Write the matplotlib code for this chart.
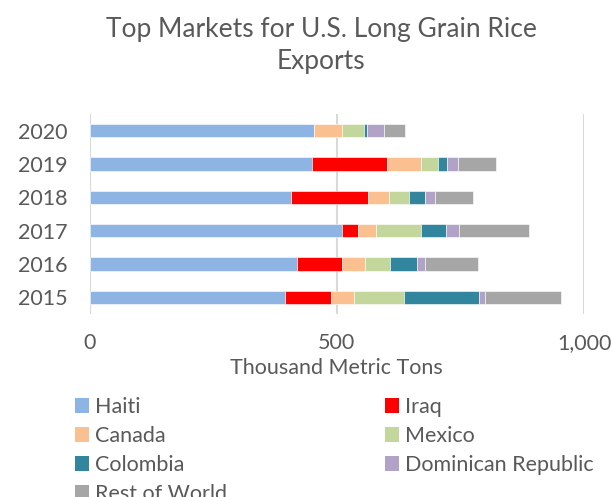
import matplotlib
matplotlib.use("Agg")
import matplotlib.pyplot as plt
from matplotlib.patches import Patch
import numpy as np

plt.rcParams['font.family'] = ['Lato', 'DejaVu Sans']

years = ["2015", "2016", "2017", "2018", "2019", "2020"]
haiti    = [396, 419, 510, 408, 449, 453]
iraq     = [93, 92, 33, 156, 153, 0]
canada   = [45, 47, 37, 42, 69, 58]
mexico   = [102, 50, 90, 40, 34, 44]
colombia = [152, 54, 51, 33, 17, 6]
dom_rep  = [12, 17, 27, 19, 23, 35]
rest     = [154, 107, 141, 77, 77, 43]

series_names = ["Haiti", "Iraq", "Canada", "Mexico", "Colombia",
                "Dominican Republic", "Rest of World"]
series_vals = [haiti, iraq, canada, mexico, colombia, dom_rep, rest]
colors = ["#8EB4E3", "#FF0000", "#FAC090", "#C3D69B", "#31859C",
          "#B3A2C7", "#A6A6A6"]

text_color = "#595959"

fig = plt.figure(figsize=(6.13, 4.97), dpi=100)
ax = fig.add_axes([89.5/613, 1-314/497, (584-89.5)/613, (314-114)/497])

y = np.arange(len(years))
left = np.zeros(len(years))
for name, vals, c in zip(series_names, series_vals, colors):
    v = np.array(vals, dtype=float)
    ax.barh(y, v, left=left, height=0.4, color=c, edgecolor="white",
            linewidth=0.4, label=name, zorder=3)
    left += v

ax.set_xlim(0, 1000)
ax.set_ylim(-0.5, len(years)-0.5)
ax.set_yticks(y)
ax.set_yticklabels(years)
ax.set_xticks([0, 500, 1000])
ax.set_xticklabels(["0", "500", "1,000"])
ax.grid(axis="x", color="#D9D9D9", linewidth=1.5, zorder=0)
for s in ax.spines.values():
    s.set_visible(False)
ax.tick_params(axis="both", length=0, labelsize=15.5, colors=text_color)
ax.tick_params(axis="x", pad=14)
ax.tick_params(axis="y", pad=16)
ax.set_xlabel("Thousand Metric Tons", fontsize=15.5, color=text_color, labelpad=3)

fig.text(321/613, 1-30/497, "Top Markets for U.S. Long Grain Rice",
         ha="center", va="center", fontsize=19, color=text_color)
fig.text(321/613, 1-61/497, "Exports",
         ha="center", va="center", fontsize=19, color=text_color)

handles = [Patch(facecolor=c, edgecolor="none") for c in colors]
order = [0, 2, 4, 6, 1, 3, 5]
leg = fig.legend([handles[i] for i in order], [series_names[i] for i in order],
                 ncol=2, loc="upper left", bbox_to_anchor=(75/613, 1-397/497),
                 frameon=False, fontsize=15.5, handlelength=0.65, handleheight=0.65,
                 handletextpad=0.3, columnspacing=7.3, labelspacing=0.42,
                 borderaxespad=0, borderpad=0)
for t in leg.get_texts():
    t.set_color(text_color)

fig.savefig("out.png", dpi=100)
